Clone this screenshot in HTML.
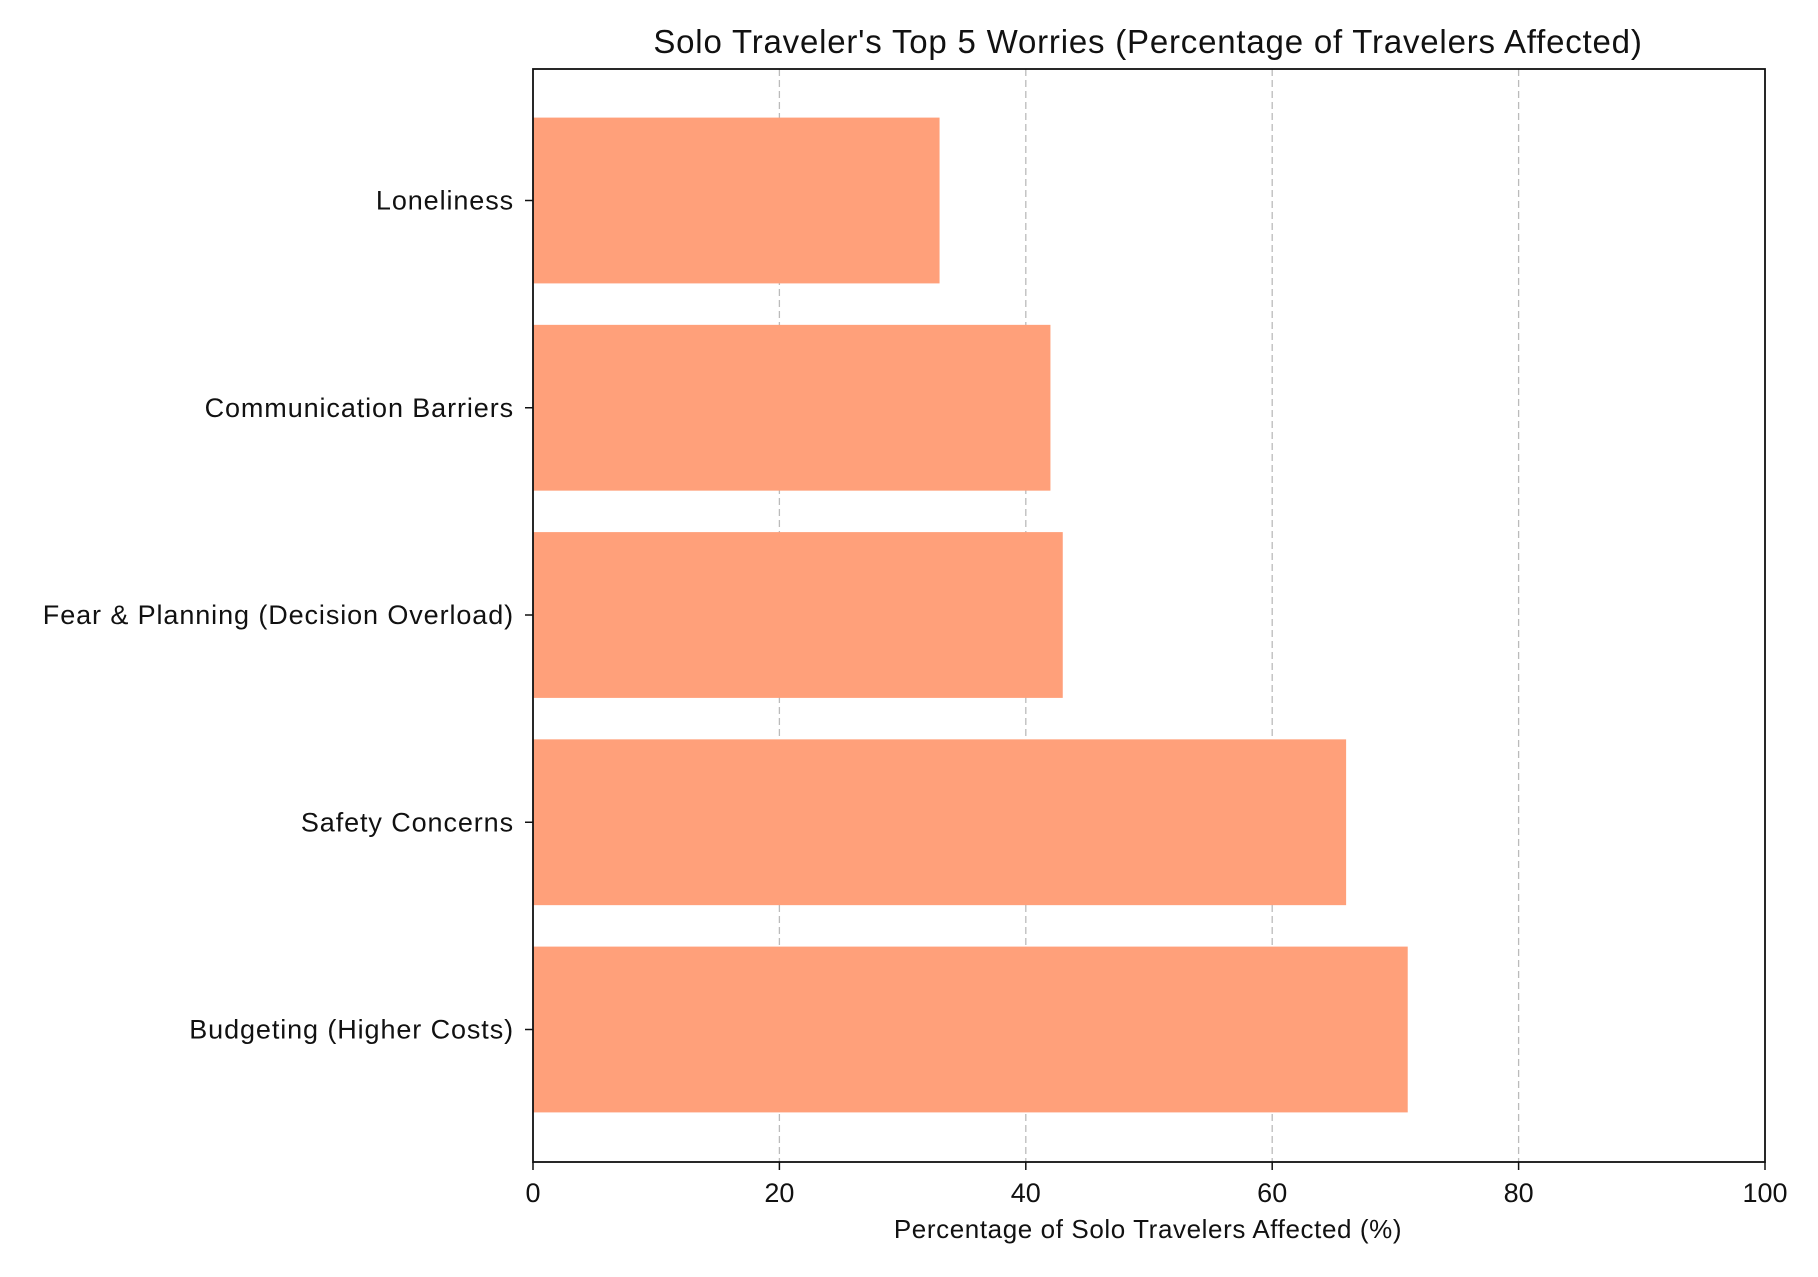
<!DOCTYPE html>
<html><head><meta charset="utf-8"><style>
body{margin:0;background:#fff;}
svg text{font-family:"Liberation Sans",sans-serif;fill:#111;}
</style></head><body>
<svg width="1818" height="1272" viewBox="0 0 1818 1272" xmlns="http://www.w3.org/2000/svg">
<g id="grid"></g><g id="bars"></g><g id="axes"></g>
<text x="1148" y="53" text-anchor="middle" font-size="33" letter-spacing="0.8">Solo Traveler's Top 5 Worries (Percentage of Travelers Affected)</text>
<text x="1148" y="1238" text-anchor="middle" font-size="26" letter-spacing="0.6">Percentage of Solo Travelers Affected (%)</text>
</svg>
<script>
const categories = ["Budgeting (Higher Costs)","Safety Concerns","Fear & Planning (Decision Overload)","Communication Barriers","Loneliness"];
const values = [71, 66, 43, 42, 33];
const xTicks = [0, 20, 40, 60, 80, 100];
const NS="http://www.w3.org/2000/svg";
const L=533,R=1765,T=69,B=1162;
const xs=v=>L+(R-L)*v/100;
const unit=207.25;
const yc=i=>1029.5-i*unit;
function mk(tag,attrs,parent){const e=document.createElementNS(NS,tag);for(const k in attrs)e.setAttribute(k,attrs[k]);parent.appendChild(e);return e;}
const grid=document.getElementById('grid'),bars=document.getElementById('bars'),axes=document.getElementById('axes');
xTicks.forEach(t=>{
  if(t>0&&t<100){const g=mk('line',{x1:xs(t),x2:xs(t),y1:T,y2:B,stroke:'#bbb','stroke-width':1.3,'stroke-dasharray':'7,4'},grid);
  
  }
  const tk=mk('line',{x1:xs(t),x2:xs(t),y1:B,y2:B+8,stroke:'#111','stroke-width':1.5},axes);
  
  
  const tl=mk('text',{x:xs(t),y:B+40,'text-anchor':'middle','font-size':27},axes);tl.textContent=t;
  
  
});
categories.forEach((c,i)=>{
  const b=mk('rect',{x:L,y:yc(i)-0.4*unit,width:xs(values[i])-L,height:0.8*unit,fill:'#FFA07A'},bars);
  
  
  const tk=mk('line',{x1:L-8,x2:L,y1:yc(i),y2:yc(i),stroke:'#111','stroke-width':1.5},axes);
  
  
  const tl=mk('text',{x:L-19,y:yc(i)+9,'text-anchor':'end','font-size':27,'letter-spacing':0.9},axes);tl.textContent=c;
  
  
});
const f=mk('rect',{x:L,y:T,width:R-L,height:B-T,fill:'none',stroke:'#111','stroke-width':1.8},axes);


</script>
</body></html>
